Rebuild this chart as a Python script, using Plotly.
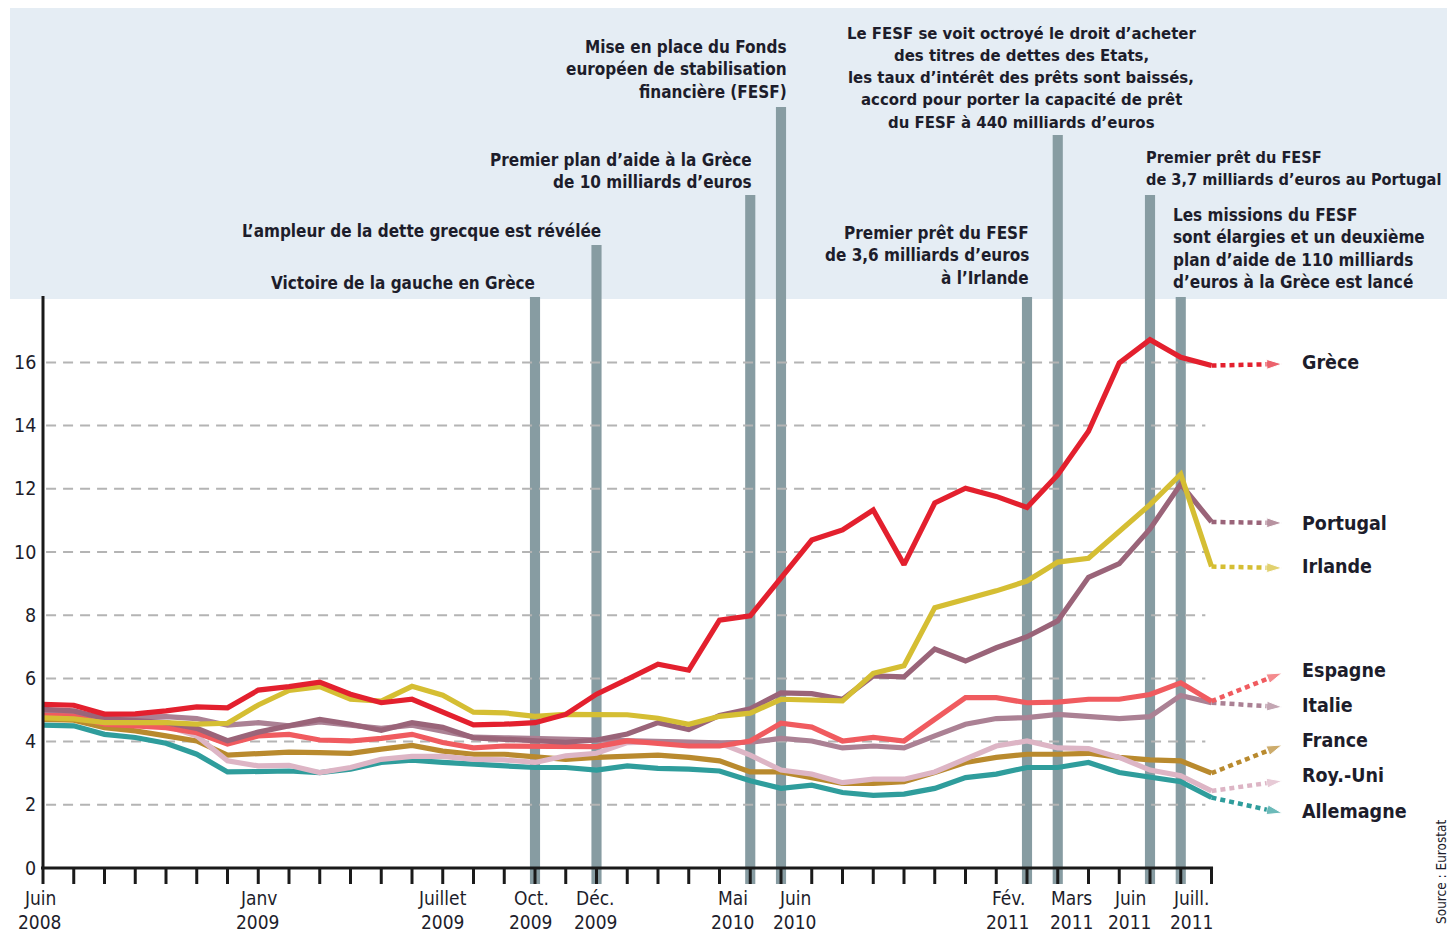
import plotly.graph_objects as go

# ---------------- DATA ----------------
# month index 0 = June 2008 ... 38 = August 2011
month_index = list(range(39))

grece = [5.18, 5.15, 4.87, 4.88, 4.97, 5.10, 5.07, 5.63, 5.74, 5.88, 5.50, 5.23, 5.34, 4.95, 4.53,
         4.55, 4.60, 4.86, 5.50, 5.97, 6.45, 6.26, 7.84, 7.98, 9.15, 10.38, 10.70, 11.33, 9.60, 11.55,
         12.02, 11.76, 11.41, 12.44, 13.82, 15.98, 16.72, 16.16, 15.90]
irlande = [4.75, 4.72, 4.60, 4.60, 4.60, 4.55, 4.58, 5.16, 5.62, 5.74, 5.34, 5.28, 5.75, 5.47, 4.93,
           4.91, 4.80, 4.86, 4.87, 4.85, 4.74, 4.55, 4.80, 4.90, 5.34, 5.32, 5.29, 6.16, 6.40, 8.24,
           8.50, 8.77, 9.08, 9.68, 9.80, 10.65, 11.50, 12.46, 9.54]
portugal = [5.02, 4.97, 4.73, 4.67, 4.60, 4.42, 4.03, 4.30, 4.52, 4.70, 4.55, 4.36, 4.60, 4.45, 4.12,
            4.08, 4.05, 3.98, 4.05, 4.24, 4.60, 4.38, 4.83, 5.04, 5.54, 5.52, 5.34, 6.08, 6.05, 6.93,
            6.55, 6.97, 7.32, 7.82, 9.20, 9.63, 10.73, 12.15, 10.95]
italie = [4.95, 4.90, 4.76, 4.76, 4.79, 4.73, 4.52, 4.60, 4.50, 4.62, 4.52, 4.42, 4.52, 4.35, 4.14,
          4.12, 4.10, 4.05, 4.04, 4.03, 4.03, 3.99, 3.96, 3.98, 4.10, 4.02, 3.80, 3.86, 3.80, 4.18,
          4.55, 4.73, 4.76, 4.86, 4.81, 4.73, 4.79, 5.46, 5.23]
espagne = [4.83, 4.81, 4.55, 4.50, 4.44, 4.28, 3.92, 4.18, 4.23, 4.05, 4.02, 4.10, 4.23, 3.97, 3.80,
           3.86, 3.86, 3.83, 3.84, 4.02, 3.96, 3.86, 3.86, 4.02, 4.58, 4.46, 4.02, 4.13, 4.02, 4.70,
           5.39, 5.39, 5.23, 5.25, 5.34, 5.34, 5.49, 5.86, 5.28]
france = [4.70, 4.68, 4.44, 4.34, 4.18, 4.02, 3.57, 3.60, 3.67, 3.65, 3.63, 3.76, 3.88, 3.70, 3.60,
          3.60, 3.53, 3.44, 3.50, 3.55, 3.57, 3.50, 3.39, 3.04, 3.04, 2.86, 2.68, 2.68, 2.73, 3.02,
          3.34, 3.50, 3.60, 3.60, 3.63, 3.50, 3.42, 3.39, 3.00]
roy_uni = [4.97, 4.92, 4.70, 4.55, 4.50, 4.18, 3.39, 3.23, 3.25, 3.02, 3.18, 3.44, 3.53, 3.53, 3.44,
           3.42, 3.34, 3.55, 3.63, 3.97, 3.99, 3.97, 3.95, 3.57, 3.10, 2.97, 2.70, 2.81, 2.81, 3.04,
           3.44, 3.86, 4.02, 3.80, 3.78, 3.50, 3.10, 2.92, 2.44]
allemagne = [4.52, 4.50, 4.23, 4.13, 3.95, 3.60, 3.04, 3.04, 3.07, 3.02, 3.13, 3.34, 3.41, 3.34, 3.28,
             3.25, 3.18, 3.18, 3.10, 3.23, 3.15, 3.13, 3.07, 2.76, 2.52, 2.62, 2.39, 2.30, 2.34, 2.52,
             2.86, 2.97, 3.18, 3.18, 3.34, 3.02, 2.86, 2.73, 2.23]

country_names = ["Allemagne", "France", "Roy.-Uni", "Italie", "Espagne", "Portugal", "Irlande", "Grèce"]
country_values = [allemagne, france, roy_uni, italie, espagne, portugal, irlande, grece]

y_tick_values = [0, 2, 4, 6, 8, 10, 12, 14, 16]

x_label_months = [0, 7, 13, 16, 18, 23, 24, 32, 33, 36, 37]
x_label_month_text = ["Juin", "Janv", "Juillet", "Oct.", "Déc.", "Mai", "Juin", "Fév.", "Mars", "Juin", "Juill."]
x_label_year_text = ["2008", "2009", "2009", "2009", "2009", "2010", "2010", "2011", "2011", "2011", "2011"]

event_months = [16, 18, 23, 24, 32, 33, 36, 37]
event_texts = [
    ["Victoire de la gauche en Grèce"],
    ["L’ampleur de la dette grecque est révélée"],
    ["Premier plan d’aide à la Grèce", "de 10 milliards d’euros"],
    ["Mise en place du Fonds", "européen de stabilisation", "financière (FESF)"],
    ["Premier prêt du FESF", "de 3,6 milliards d’euros", "à l’Irlande"],
    ["Le FESF se voit octroyé le droit d’acheter", "des titres de dettes des Etats,",
     "les taux d’intérêt des prêts sont baissés,", "accord pour porter la capacité de prêt",
     "du FESF à 440 milliards d’euros"],
    ["Premier prêt du FESF", "de 3,7 milliards d’euros au Portugal"],
    ["Les missions du FESF", "sont élargies et un deuxième", "plan d’aide de 110 milliards",
     "d’euros à la Grèce est lancé"],
]
source_text = "Source : Eurostat"

# ---------------- STYLE / LAYOUT ----------------
PAGE_OFF = 8                 # default body margin of the html page
W, H = 1455 - PAGE_OFF, 935 - PAGE_OFF
X0_PX, MONTH_PX = 43.0, 30.75   # page px of month 0, px per month
Y0_PX, UNIT_PX = 868.0, 31.6    # page px of value 0, px per unit


def xpx(p):
    return (p - X0_PX) / MONTH_PX


def ypx(p):
    return (Y0_PX - p) / UNIT_PX


colors = {
    "Grèce": "#e3202e",
    "Portugal": "#9a6479",
    "Irlande": "#d5be33",
    "Espagne": "#f05b5f",
    "Italie": "#ab8194",
    "France": "#b98a2e",
    "Roy.-Uni": "#ddb5c5",
    "Allemagne": "#2f9d9c",
}
# (arrow end y px, label y px)
label_pos = {
    "Grèce": (364, 362),
    "Portugal": (523, 523),
    "Irlande": (568, 566),
    "Espagne": (673, 670),
    "Italie": (707, 705),
    "France": (745, 740),
    "Roy.-Uni": (781, 775),
    "Allemagne": (813, 811),
}
event_bar_top = [297, 245, 195, 107, 297, 135, 195, 297]
event_text_anchor = ["right", "right", "right", "right", "right", "center", "left", "left"]
event_text_x = [537, 603, 754, 789, 1031, 1021, 1144, 1171]
event_text_y0 = [283, 231, 160, 47, 233, 33, 157, 215]
event_text_size = [17, 17, 17, 17, 17, 16.6, 16.2, 17]
LINE_H = 22.3

FONT = "DejaVu Sans Condensed, DejaVu Sans, sans-serif"
TXT = "#1d1d2b"

fig = go.Figure()

last = len(month_index) - 1
for name, vals in zip(country_names, country_values):
    c = colors[name]
    fig.add_trace(go.Scatter(x=month_index, y=vals, mode="lines",
                             line=dict(color=c, width=5.2), hoverinfo="skip", showlegend=False))
    ay, ly = label_pos[name]
    fig.add_trace(go.Scatter(
        x=[month_index[last], xpx(1282)], y=[vals[last], ypx(ay)], mode="lines+markers",
        line=dict(color=c, width=4.5, dash="5px,4px"),
        marker=dict(symbol="arrow", size=[0, 16], color=c, angleref="previous"),
        hoverinfo="skip", showlegend=False))

shapes = []
shapes.append(dict(type="rect", xref="x", yref="y", x0=xpx(10), x1=xpx(1460), y0=ypx(299), y1=ypx(5),
                   fillcolor="#e5edf4", line=dict(width=0), layer="below"))
for m, top in zip(event_months, event_bar_top):
    shapes.append(dict(type="rect", xref="x", yref="y", x0=m - 0.165, x1=m + 0.165,
                       y0=ypx(884), y1=ypx(top), fillcolor="#879ca2", line=dict(width=0), layer="below"))
for v in y_tick_values[1:]:
    shapes.append(dict(type="line", xref="x", yref="y", x0=0.1, x1=month_index[-1] - 0.2, y0=v, y1=v,
                       line=dict(color="#b4b4b4", width=2, dash="10px,7px"), layer="below"))
shapes.append(dict(type="line", xref="x", yref="y", x0=0, x1=0, y0=0, y1=ypx(296),
                   line=dict(color="#1a1a1a", width=3), layer="above"))
shapes.append(dict(type="line", xref="x", yref="y", x0=xpx(41), x1=month_index[-1] + 0.05, y0=0, y1=0,
                   line=dict(color="#1a1a1a", width=3), layer="above"))
for m in month_index:
    shapes.append(dict(type="line", xref="x", yref="y", x0=m, x1=m, y0=0, y1=ypx(884),
                       line=dict(color="#1a1a1a", width=3), layer="above"))

ann = []
for v in y_tick_values:
    ann.append(dict(x=xpx(38), y=v, xref="x", yref="y", text=str(v), showarrow=False,
                    xanchor="right", yanchor="middle", font=dict(family=FONT, size=19.5, color=TXT)))

x_label_shift = [-3, 0, 0, -4, -1, -17, 14, -19, 14, -20, 11]
for m, mt, yt, sh in zip(x_label_months, x_label_month_text, x_label_year_text, x_label_shift):
    ann.append(dict(x=m + sh / MONTH_PX, y=ypx(898), xref="x", yref="y", text=mt, showarrow=False,
                    xanchor="center", yanchor="middle", font=dict(family=FONT, size=19, color=TXT)))
    ann.append(dict(x=m + sh / MONTH_PX, y=ypx(922), xref="x", yref="y", text=yt, showarrow=False,
                    xanchor="center", yanchor="middle", font=dict(family=FONT, size=19, color=TXT)))

for lines, anc, xp, y0, fs in zip(event_texts, event_text_anchor, event_text_x, event_text_y0,
                                  event_text_size):
    for k, t in enumerate(lines):
        ann.append(dict(x=xpx(xp), y=ypx(y0 + k * LINE_H), xref="x", yref="y", text="<b>%s</b>" % t,
                        showarrow=False, xanchor=anc, yanchor="middle",
                        font=dict(family=FONT, size=fs, color=TXT)))

for name in country_names:
    ann.append(dict(x=xpx(1300), y=ypx(label_pos[name][1]), xref="x", yref="y", text="<b>%s</b>" % name,
                    showarrow=False, xanchor="left", yanchor="middle",
                    font=dict(family=FONT, size=19.5, color=TXT)))

ann.append(dict(x=xpx(1441), y=ypx(872), xref="x", yref="y", text=source_text, textangle=-90,
                showarrow=False, xanchor="center", yanchor="middle",
                font=dict(family=FONT, size=13.5, color=TXT)))

fig.update_layout(
    width=W, height=H, margin=dict(l=0, r=0, t=0, b=0),
    paper_bgcolor="white", plot_bgcolor="white",
    xaxis=dict(range=[xpx(PAGE_OFF), xpx(PAGE_OFF + W)], visible=False, fixedrange=True),
    yaxis=dict(range=[ypx(PAGE_OFF + H), ypx(PAGE_OFF)], visible=False, fixedrange=True),
    shapes=shapes, annotations=ann, showlegend=False,
)

fig.write_html("out.html")
